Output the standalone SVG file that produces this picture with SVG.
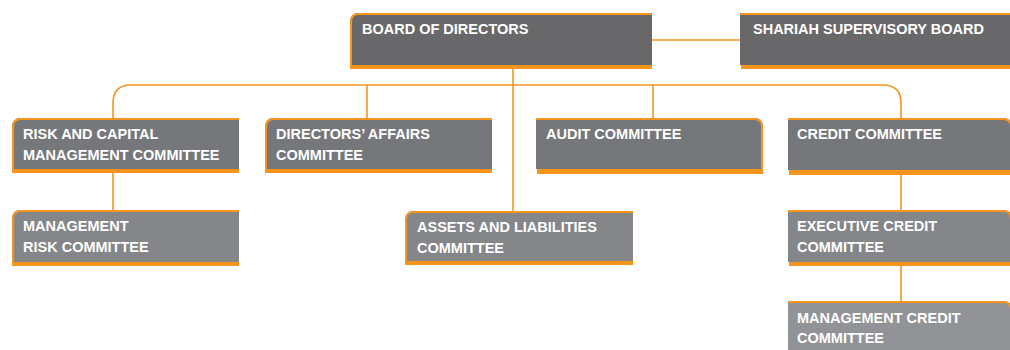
<svg xmlns="http://www.w3.org/2000/svg" width="1010" height="350" viewBox="0 0 1010 350">
<style>
.t{font-family:"Liberation Sans",Arial,sans-serif;font-weight:bold;font-size:14.5px;fill:#ffffff}
.ob{fill:#f7941e}
.edge{fill:none;stroke:#f7941e;stroke-width:1.6}
.c1{fill:#68686a}.c2{fill:#76777a}.c3{fill:#858689}.c4{fill:#929396}
.brd{fill:none;stroke:#f7941e;stroke-width:2}
</style>
<rect width="1010" height="350" fill="#ffffff"/>
<g id="connectors">
<path class="edge" d="M113,118 V103 Q113,85 131,85 H883 Q901,85 901,103 V118"/>
<path class="edge" d="M367,85 V118"/>
<path class="edge" d="M653,85 V118"/>
<path class="edge" d="M513,69 V211"/>
<path class="edge" d="M652,40 H740"/>
<path class="edge" d="M113,173 V210"/>
<path class="edge" d="M901,175 V210"/>
<path class="edge" d="M901,266 V301"/>
</g>
<g id="board">
<path class="c1" d="M350,65 V22 Q350,13 359,13 H652 V65 Z"/>
<path class="brd" d="M351,65 V22 Q351,14 359,14 H652"/>
<rect class="ob" x="350" y="65" width="302" height="4"/>
<text class="t" x="362" y="34">BOARD OF DIRECTORS</text>
</g>
<g id="shariah">
<rect class="c1" x="740" y="14" width="270" height="51"/>
<rect class="ob" x="740" y="13" width="270" height="2"/>
<rect class="ob" x="741" y="65" width="269" height="4"/>
<text class="t" x="753" y="34">SHARIAH SUPERVISORY BOARD</text>
</g>
<g id="risk-capital">
<path class="c2" d="M12,169 V127 Q12,118 21,118 H239 V169 Z"/>
<path class="brd" d="M13,169 V127 Q13,119 21,119 H239"/>
<rect class="ob" x="12" y="169" width="227" height="4"/>
<text class="t" x="23" y="139">RISK AND CAPITAL</text>
<text class="t" x="23" y="160">MANAGEMENT COMMITTEE</text>
</g>
<g id="directors-affairs">
<path class="c2" d="M265,169 V127 Q265,118 274,118 H492 V169 Z"/>
<path class="brd" d="M266,169 V127 Q266,119 274,119 H492"/>
<rect class="ob" x="265" y="169" width="227" height="4"/>
<text class="t" x="276" y="139">DIRECTORS’ AFFAIRS</text>
<text class="t" x="276" y="160">COMMITTEE</text>
</g>
<g id="audit">
<path class="c2" d="M536,169 V118 H754 Q763,118 763,127 V169 Z"/>
<path class="brd" d="M536,119 H754 Q762,119 762,127 V169"/>
<rect class="ob" x="537" y="169" width="226" height="5"/>
<text class="t" x="546" y="139">AUDIT COMMITTEE</text>
</g>
<g id="credit">
<path class="c2" d="M788,170 V118 H1003 Q1012,118 1012,127 V170 Z"/>
<path class="brd" d="M788,119 H1003 Q1011,119 1011,127"/>
<rect class="ob" x="789" y="170" width="221" height="5"/>
<text class="t" x="797" y="139">CREDIT COMMITTEE</text>
</g>
<g id="management-risk">
<path class="c3" d="M12,262 V219 Q12,210 21,210 H239 V262 Z"/>
<path class="brd" d="M13,262 V219 Q13,211 21,211 H239"/>
<rect class="ob" x="12" y="262" width="227" height="4"/>
<text class="t" x="23" y="231">MANAGEMENT</text>
<text class="t" x="23" y="252">RISK COMMITTEE</text>
</g>
<g id="assets-liabilities">
<path class="c3" d="M405,261 V220 Q405,211 414,211 H633 V261 Z"/>
<path class="brd" d="M406,261 V220 Q406,212 414,212 H633"/>
<rect class="ob" x="405" y="261" width="228" height="4"/>
<text class="t" x="417" y="232">ASSETS AND LIABILITIES</text>
<text class="t" x="417" y="253">COMMITTEE</text>
</g>
<g id="executive-credit">
<path class="c3" d="M788,262 V210 H1003 Q1012,210 1012,219 V262 Z"/>
<path class="brd" d="M788,211 H1003 Q1011,211 1011,219"/>
<rect class="ob" x="789" y="262" width="221" height="4"/>
<text class="t" x="797" y="231">EXECUTIVE CREDIT</text>
<text class="t" x="797" y="252">COMMITTEE</text>
</g>
<g id="management-credit">
<path class="c4" d="M788,350 V301 H1003 Q1012,301 1012,310 V350 Z"/>
<path class="brd" d="M788,302 H1003 Q1011,302 1011,310"/>
<text class="t" x="797" y="323">MANAGEMENT CREDIT</text>
<text class="t" x="797" y="343">COMMITTEE</text>
</g>
</svg>
